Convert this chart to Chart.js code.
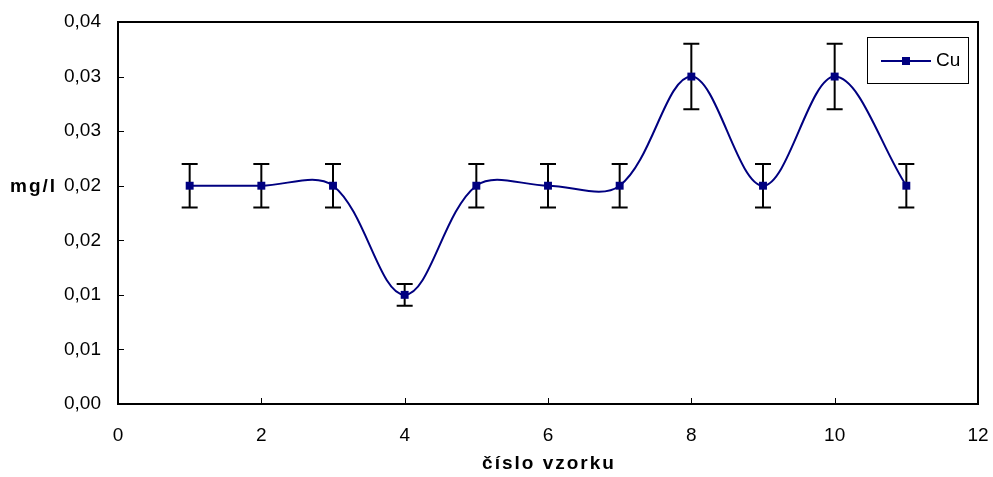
<!DOCTYPE html>
<html>
<head>
<meta charset="utf-8">
<title>Cu</title>
<script src="https://cdn.jsdelivr.net/npm/chart.js@4.4.0/dist/chart.umd.min.js"></script>
<style>
    html, body { margin: 0; padding: 0; background: #fff; }
    #wrap { width: 993px; height: 477px; }
</style>
</head>
<body>
<div id="wrap"><canvas id="cuChart"></canvas></div>
<script>
// sample numbers and measured Cu concentrations (mg/l)
var samples = [1, 2, 3, 4, 5, 6, 7, 8, 9, 10, 11];
var cuValues = [0.02, 0.02, 0.02, 0.01, 0.02, 0.02, 0.02, 0.03, 0.02, 0.03, 0.02];
var cuErrors = [0.002, 0.002, 0.002, 0.001, 0.002, 0.002, 0.002, 0.003, 0.002, 0.003, 0.002];
var yTickLabels = ['0,00', '0,01', '0,01', '0,02', '0,02', '0,03', '0,03', '0,04'];
var seriesName = 'Cu';
var xTitle = 'číslo vzorku';
var yTitle = 'mg/l';

var navy = '#000080';
var font = 'Liberation Sans, Arial, sans-serif';

// no automatic label padding, the plot box is fixed by layout.padding + afterFit
function noPadding(scale) {
    scale.paddingLeft = 0;
    scale.paddingRight = 0;
    scale.paddingTop = 0;
    scale.paddingBottom = 0;
}

// frame, inward tick marks, error bars, titles and legend
var framePlugin = {
    id: 'frame',
    beforeDatasetsDraw: function (chart) {
        var ctx = chart.ctx;
        var a = chart.chartArea;
        var xs = chart.scales.x, ys = chart.scales.y;
        ctx.save();
        ctx.strokeStyle = '#000';
        ctx.lineWidth = 1;
        ys.ticks.forEach(function (t) {
            var y = Math.round(ys.getPixelForValue(t.value)) + 0.5;
            ctx.beginPath(); ctx.moveTo(a.left, y); ctx.lineTo(a.left + 6, y); ctx.stroke();
        });
        xs.ticks.forEach(function (t) {
            var x = Math.round(xs.getPixelForValue(t.value)) + 0.5;
            ctx.beginPath(); ctx.moveTo(x, a.bottom); ctx.lineTo(x, a.bottom - 6); ctx.stroke();
        });
        ctx.lineWidth = 2;
        ctx.strokeRect(a.left, a.top, a.right - a.left, a.bottom - a.top);

        // error bars
        for (var i = 0; i < samples.length; i++) {
            var px = xs.getPixelForValue(samples[i]);
            var top = ys.getPixelForValue(cuValues[i] + cuErrors[i]);
            var bot = ys.getPixelForValue(cuValues[i] - cuErrors[i]);
            ctx.beginPath();
            ctx.moveTo(px, top); ctx.lineTo(px, bot);
            ctx.moveTo(px - 8, top); ctx.lineTo(px + 8, top);
            ctx.moveTo(px - 8, bot); ctx.lineTo(px + 8, bot);
            ctx.stroke();
        }
        ctx.restore();
    },
    afterDraw: function (chart) {
        var ctx = chart.ctx;
        var a = chart.chartArea;
        ctx.save();
        ctx.fillStyle = '#000';
        ctx.font = 'bold 19px ' + font;
        ctx.letterSpacing = '2px';
        ctx.textBaseline = 'middle';

        // horizontal y-axis title
        ctx.textAlign = 'left';
        ctx.fillText(yTitle, 10, chart.scales.y.getPixelForValue(0.02) + 1);

        // x-axis title
        ctx.textAlign = 'center';
        ctx.fillText(xTitle, (a.left + a.right) / 2 + 1, 464);
        ctx.letterSpacing = '0px';

        // legend box
        var bx = a.right - 111, by = a.top + 15, bw = 101, bh = 46;
        ctx.strokeStyle = '#000';
        ctx.lineWidth = 1;
        ctx.strokeRect(bx + 0.5, by + 0.5, bw, bh);
        var ly = by + bh / 2 + 1;
        ctx.strokeStyle = navy;
        ctx.lineWidth = 2;
        ctx.beginPath(); ctx.moveTo(bx + 14, ly); ctx.lineTo(bx + 64, ly); ctx.stroke();
        ctx.fillStyle = navy;
        ctx.fillRect(bx + 35, ly - 4, 8, 8);
        ctx.fillStyle = '#000';
        ctx.font = '19px ' + font;
        ctx.textAlign = 'left';
        ctx.fillText(seriesName, bx + 69, ly);
        ctx.restore();
    }
};

var ctx = document.getElementById('cuChart');
var cuChart = new Chart(ctx, {
    type: 'line',
    data: {
        datasets: [{
            label: seriesName,
            data: samples.map(function (s, i) { return { x: s, y: cuValues[i] }; }),
            borderColor: navy,
            backgroundColor: navy,
            borderWidth: 2,
            pointStyle: 'rect',
            pointRadius: 5.6,
            pointBorderWidth: 0,
            tension: 0.35,
            fill: false
        }]
    },
    options: {
        responsive: true,
        maintainAspectRatio: false,
        animation: false,
        layout: { padding: { top: 22, right: 15, left: 0, bottom: 0 } },
        plugins: {
            legend: { display: false },
            tooltip: { enabled: false }
        },
        scales: {
            x: {
                type: 'linear',
                min: 0,
                max: 12,
                ticks: { stepSize: 2, padding: 20, color: '#000', font: { family: font, size: 19 } },
                grid: { display: false, drawTicks: false },
                border: { display: false },
                afterFit: function (scale) { scale.height = 73; noPadding(scale); }
            },
            y: {
                min: 0,
                max: 0.035,
                ticks: {
                    stepSize: 0.005,
                    padding: 17,
                    color: '#000',
                    font: { family: font, size: 19 },
                    callback: function (value, index) { return yTickLabels[index]; }
                },
                grid: { display: false, drawTicks: false },
                border: { display: false },
                afterFit: function (scale) { scale.width = 118; noPadding(scale); }
            }
        }
    },
    plugins: [framePlugin]
});
</script>
</body>
</html>
